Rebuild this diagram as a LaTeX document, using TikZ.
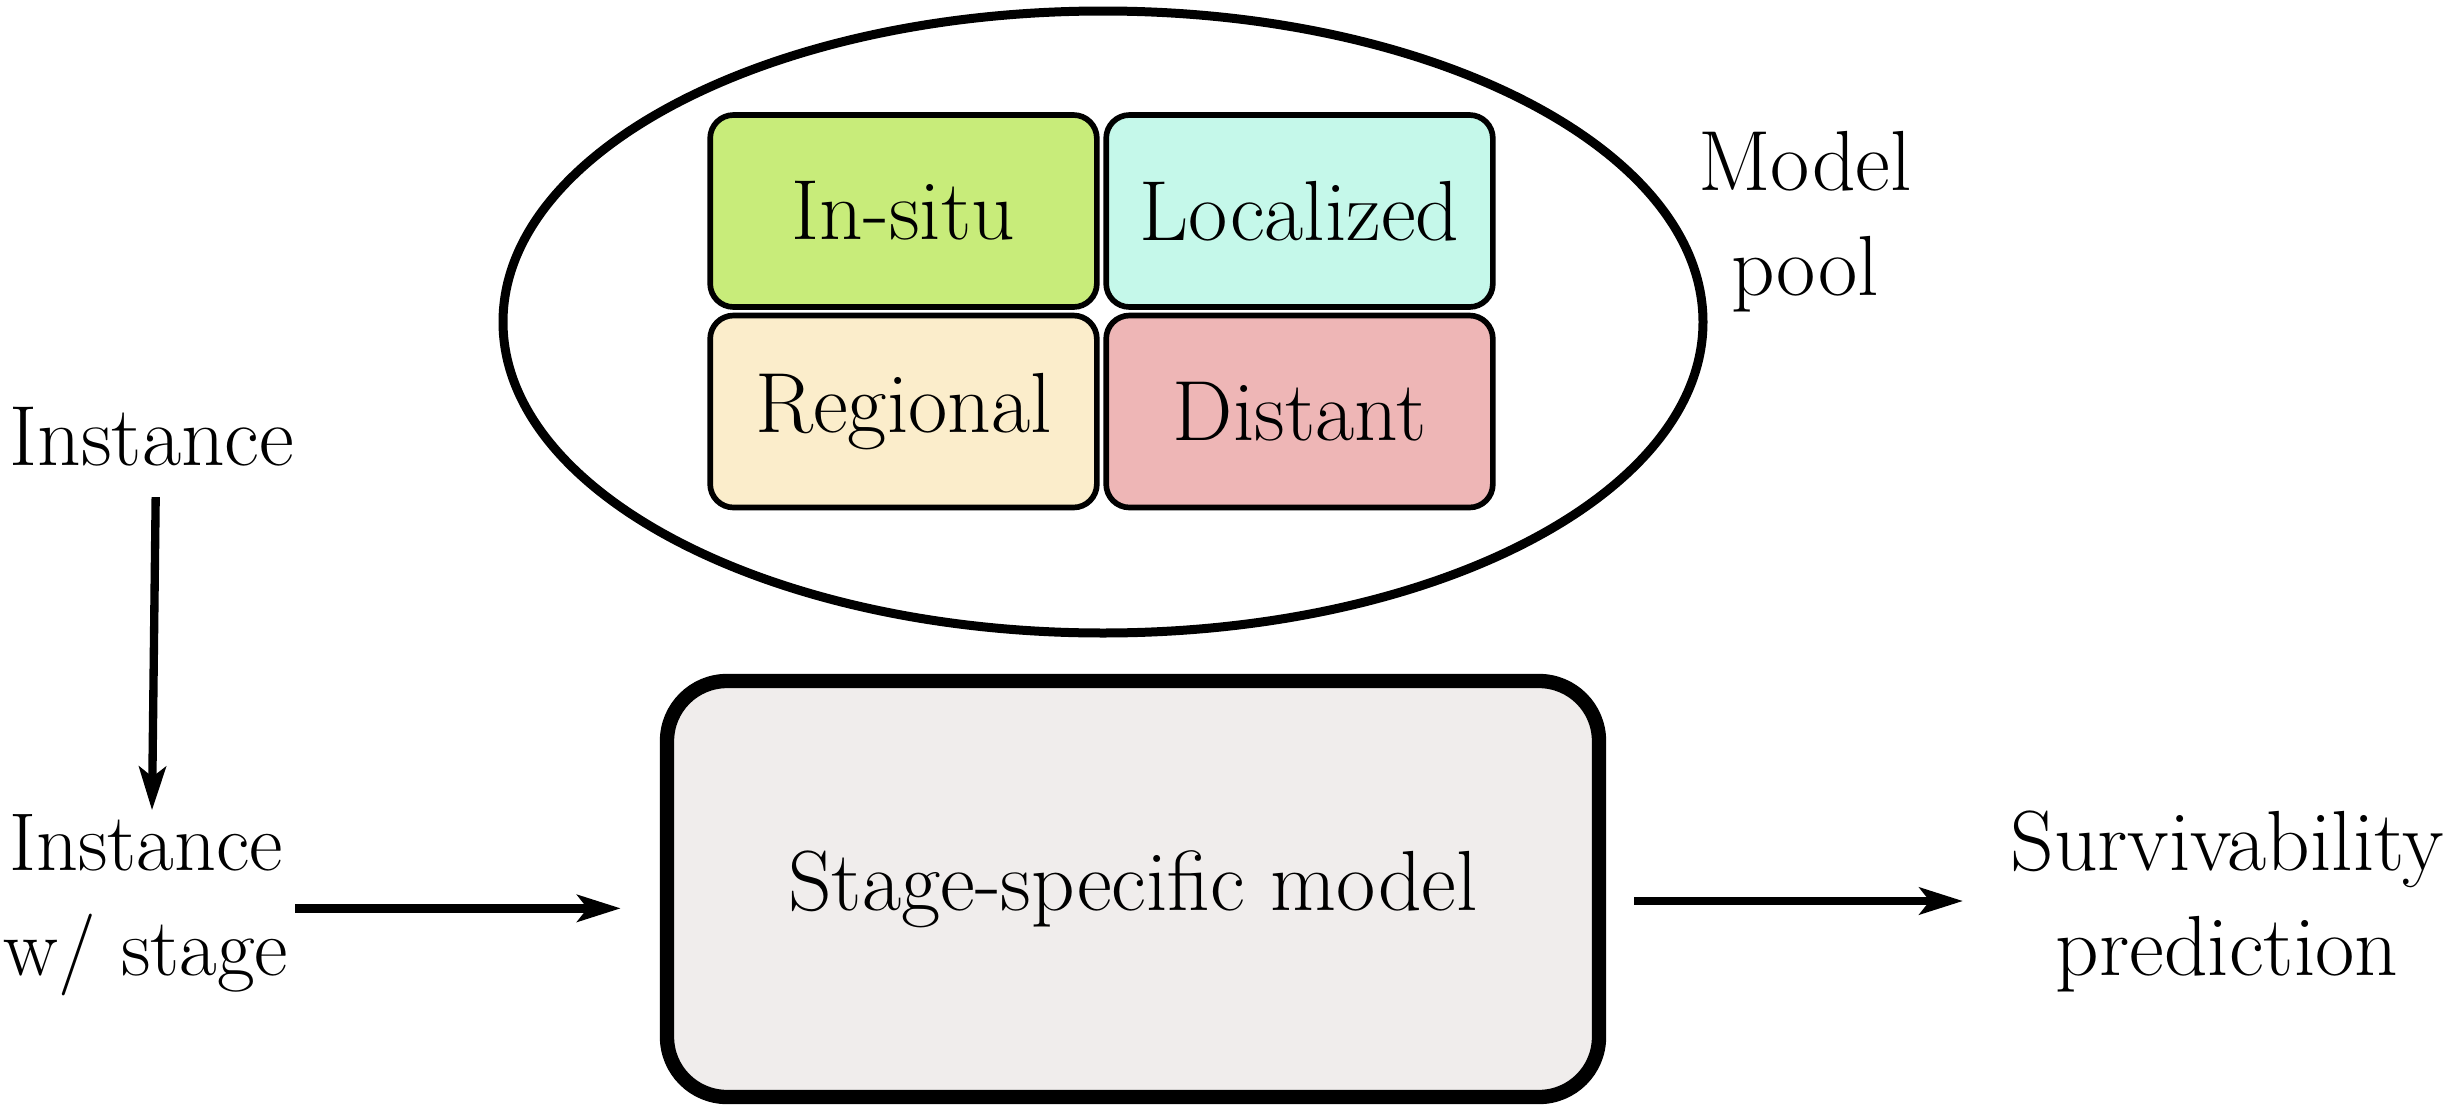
\documentclass[tikz,border=0pt]{standalone}
\usetikzlibrary{arrows.meta,shapes.geometric}
\definecolor{cgreen}{RGB}{200,236,122}
\definecolor{ccyan}{RGB}{197,248,234}
\definecolor{cbeige}{RGB}{251,237,203}
\definecolor{cpink}{RGB}{238,182,182}
\definecolor{cgrey}{RGB}{240,237,236}
\begin{document}
\begin{tikzpicture}[x=0.3pt,y=-0.3pt,
  txt/.style={font=\rmfamily\fontsize{25.6}{31.5}\selectfont, align=center, inner sep=1pt},
  stagebox/.style={draw, line width=1.7pt, rounded corners=7pt, minimum width=116pt, minimum height=57.6pt, font=\rmfamily\fontsize{25.6}{31.5}\selectfont, inner sep=0pt},
  bigbox/.style={draw, line width=4.3pt, rounded corners=18pt, fill=cgrey, minimum width=279.6pt, minimum height=124.8pt, font=\rmfamily\fontsize{25.6}{31.5}\selectfont},
  arr/.style={line width=2.5pt, -{Stealth[length=13pt,width=8pt,inset=3pt]}}
]
\useasboundingbox (0,0) rectangle (2451,1118);
% model pool ellipse
\node[draw, line width=2.7pt, ellipse, minimum width=360pt, minimum height=186.6pt, inner sep=0pt] (pool) at (1103,322) {};
\node[stagebox, fill=cgreen] (insitu) at (903.5,211) {In-situ};
\node[stagebox, fill=ccyan] (local) at (1299.5,211) {Localized};
\node[stagebox, fill=cbeige] (region) at (903.5,411.5) {Regional};
\node[stagebox, fill=cpink] (distant) at (1299.5,411.5) {Distant};
\node[txt] (pooltxt) at (1805,222) {Model\\pool};
% left
\node[txt] (inst) at (152,437) {Instance};
\node[txt, font=\rmfamily\fontsize{24.6}{31.5}\selectfont] (instw) at (146,905) {Instance\\w/ stage};
% big box
\node[bigbox] (model) at (1133,889) {Stage-specific model};
\node[txt] (surv) at (2227,901) {Survivability\\prediction};
% arrows
\draw[arr, shorten <=8pt] ([xshift=1.2pt]inst.south) -- ([xshift=1.8pt]instw.north);
\draw[arr, shorten <=1pt, shorten >=11.7pt] ([yshift=-1pt]instw.east) -- ([yshift=-1pt]instw.east -| model.west);
\draw[arr, shorten <=8.4pt, shorten >=13pt] (model.east |- surv.west) -- (surv.west);
\end{tikzpicture}
\end{document}
